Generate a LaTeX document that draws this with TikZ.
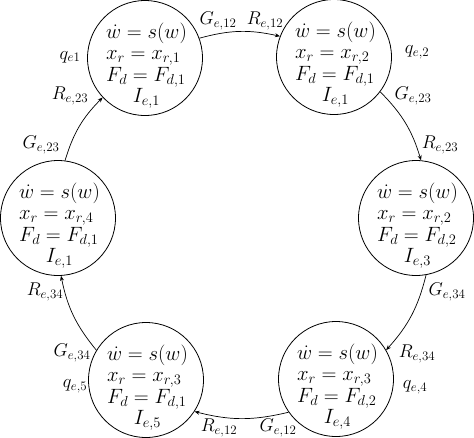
\RequirePackage{fix-cm}
\documentclass[tikz,border=0pt]{standalone}
\usetikzlibrary{arrows.meta}
\newcommand\statetext[3]{\hspace*{3pt}\raisebox{-13pt}[0pt][0pt]{\begin{tabular}{@{}l@{}}$\dot w = s(w)$\\ $x_r = x_{r,#1}$\\ $F_d = F_{d,#2}$\\ \multicolumn{1}{@{}c@{}}{$I_{e,#3}$}\end{tabular}}}
\begin{document}
\begin{tikzpicture}[x=1pt,y=-1pt,
  every node/.style={font=\fontsize{18.5}{21.5}\selectfont},
  state/.style={draw,circle,line width=0.8pt,minimum size=115pt,inner sep=0pt,
    font=\fontsize{20.7}{21.3}\selectfont},
  lab/.style={inner sep=0pt},
  flow/.style={-{Stealth[length=5pt,width=4pt]},line width=0.7pt}]
\useasboundingbox (0,0) rectangle (474,437);
\node[state] (c1) at (145,58)  {\statetext{1}{1}{1}};
\node[state] (c2) at (334,57)  {\statetext{2}{1}{1}};
\node[state] (c3) at (416,218) {\statetext{2}{2}{3}};
\node[state] (c4) at (336,379) {\statetext{3}{2}{4}};
\node[state] (c5) at (146,380) {\statetext{3}{1}{5}};
\node[state] (c6) at (58,218)  {\statetext{4}{1}{1}};
\draw[flow] (c1.20)   to[bend left=14] (c2.159);
\draw[flow] (c2.-37)  to[bend left=14] (c3.85);
\draw[flow] (c3.-80)  to[bend left=14] (c4.30);
\draw[flow] (c4.-145) to[bend left=14] (c5.-33);
\draw[flow] (c5.149)  to[bend left=14] (c6.-87);
\draw[flow] (c6.83)   to[bend left=14] (c1.-137);
\node[lab] (q1)  at (70,57)   {$q_{e1}$};
\node[lab] (r23a) at (70,96)  {$R_{e,23}$};
\node[lab] (g23a) at (41,145) {$G_{e,23}$};
\node[lab] (g12a) at (218,21) {$G_{e,12}$};
\node[lab] (r12a) at (265,21) {$R_{e,12}$};
\node[lab] (q2)  at (417,52)  {$q_{e,2}$};
\node[lab] (g23b) at (413,96) {$G_{e,23}$};
\node[lab] (r23b) at (440,145) {$R_{e,23}$};
\node[lab] (g34a) at (447,292) {$G_{e,34}$};
\node[lab] (r34a) at (417,354) {$R_{e,34}$};
\node[lab] (q4)  at (415,387) {$q_{e,4}$};
\node[lab] (g12b) at (278,428) {$G_{e,12}$};
\node[lab] (r12b) at (219,428) {$R_{e,12}$};
\node[lab] (g34b) at (72,353) {$G_{e,34}$};
\node[lab] (q5)  at (75,386)  {$q_{e,5}$};
\node[lab] (r34b) at (45,292) {$R_{e,34}$};
\end{tikzpicture}
\end{document}
